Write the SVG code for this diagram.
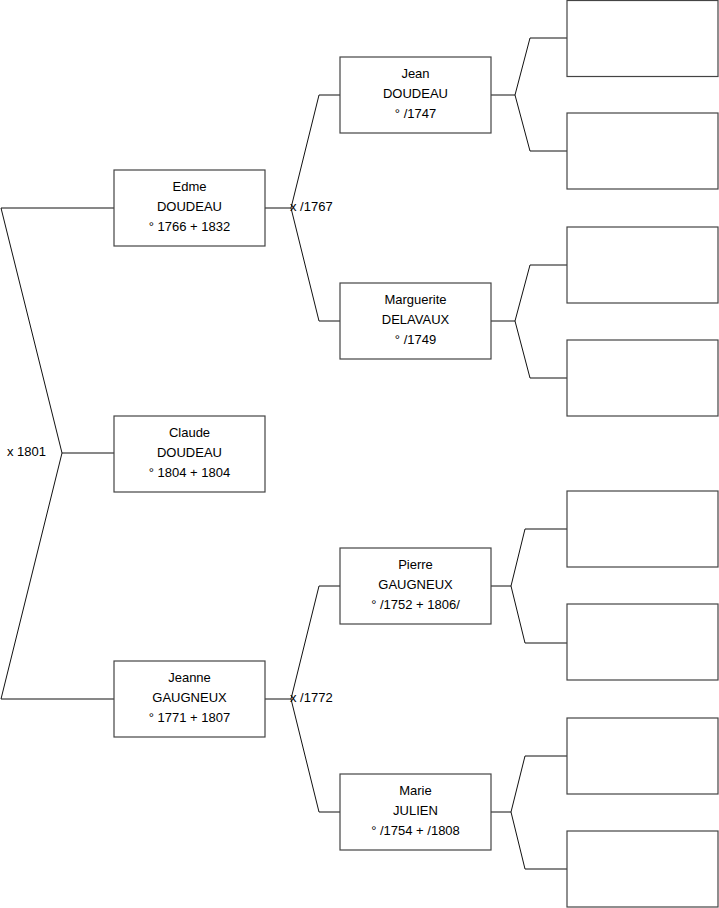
<svg xmlns="http://www.w3.org/2000/svg" width="719" height="908" viewBox="0 0 719 908">
<style>
.box{fill:#fff;stroke:#444;stroke-width:1.2}
.ln{fill:none;stroke:#111;stroke-width:1}
text{font-family:"Liberation Sans",Arial,sans-serif;font-size:13px;fill:#000}
.c{text-anchor:middle}
</style>
<rect width="719" height="908" fill="#fff"/>
<g id="connectors">
<polyline class="ln" points="114,208 1,208 62,453 1,699 114,699"/>
<line class="ln" x1="62" y1="453" x2="114" y2="453"/>
<polyline class="ln" points="265,208 291,208"/>
<polyline class="ln" points="340,95 319,95 291,208 319,321 340,321"/>
<polyline class="ln" points="265,699 291,699"/>
<polyline class="ln" points="340,586 319,586 291,699 319,812 340,812"/>
<line class="ln" x1="491" y1="95" x2="515" y2="95"/>
<polyline class="ln" points="567,38 530,38 515,95 530,151 567,151"/>
<line class="ln" x1="491" y1="321" x2="515" y2="321"/>
<polyline class="ln" points="567,265 530,265 515,321 530,378 567,378"/>
<line class="ln" x1="491" y1="586" x2="511" y2="586"/>
<polyline class="ln" points="567,529 525,529 511,586 525,643 567,643"/>
<line class="ln" x1="491" y1="812" x2="511" y2="812"/>
<polyline class="ln" points="567,756 525,756 511,812 525,869 567,869"/>
<text x="7" y="456">x 1801</text>
<text x="290" y="211">x /1767</text>
<text x="290" y="702">x /1772</text>
</g>
<g id="edme"><rect class="box" x="114" y="170" width="151" height="76"/><text class="c" x="189.5" y="191">Edme</text><text class="c" x="189.5" y="211">DOUDEAU</text><text class="c" x="189.5" y="231">° 1766 + 1832</text></g>
<g id="claude"><rect class="box" x="114" y="416" width="151" height="76"/><text class="c" x="189.5" y="437">Claude</text><text class="c" x="189.5" y="457">DOUDEAU</text><text class="c" x="189.5" y="477">° 1804 + 1804</text></g>
<g id="jeanne"><rect class="box" x="114" y="661" width="151" height="76"/><text class="c" x="189.5" y="682">Jeanne</text><text class="c" x="189.5" y="702">GAUGNEUX</text><text class="c" x="189.5" y="722">° 1771 + 1807</text></g>
<g id="jean"><rect class="box" x="340" y="57" width="151" height="76"/><text class="c" x="415.5" y="78">Jean</text><text class="c" x="415.5" y="98">DOUDEAU</text><text class="c" x="415.5" y="118">° /1747</text></g>
<g id="marguerite"><rect class="box" x="340" y="283" width="151" height="76"/><text class="c" x="415.5" y="304">Marguerite</text><text class="c" x="415.5" y="324">DELAVAUX</text><text class="c" x="415.5" y="344">° /1749</text></g>
<g id="pierre"><rect class="box" x="340" y="548" width="151" height="76"/><text class="c" x="415.5" y="569">Pierre</text><text class="c" x="415.5" y="589">GAUGNEUX</text><text class="c" x="415.5" y="609">° /1752 + 1806/</text></g>
<g id="marie"><rect class="box" x="340" y="774" width="151" height="76"/><text class="c" x="415.5" y="795">Marie</text><text class="c" x="415.5" y="815">JULIEN</text><text class="c" x="415.5" y="835">° /1754 + /1808</text></g>
<g id="g3a"><rect class="box" x="567" y="0.5" width="151" height="76"/></g>
<g id="g3b"><rect class="box" x="567" y="113" width="151" height="76"/></g>
<g id="g3c"><rect class="box" x="567" y="227" width="151" height="76"/></g>
<g id="g3d"><rect class="box" x="567" y="340" width="151" height="76"/></g>
<g id="g3e"><rect class="box" x="567" y="491" width="151" height="76"/></g>
<g id="g3f"><rect class="box" x="567" y="604" width="151" height="76"/></g>
<g id="g3g"><rect class="box" x="567" y="718" width="151" height="76"/></g>
<g id="g3h"><rect class="box" x="567" y="831" width="151" height="76"/></g>
</svg>
